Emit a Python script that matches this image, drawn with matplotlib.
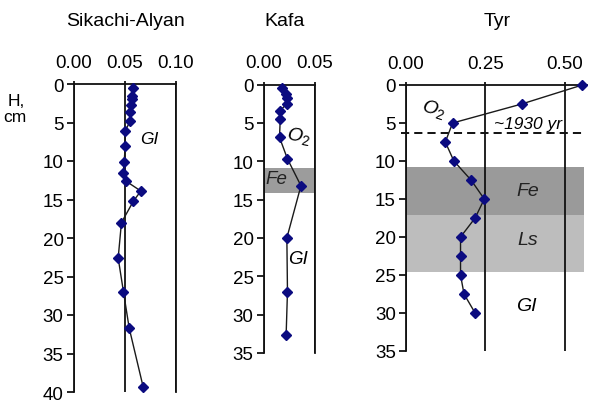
import matplotlib
matplotlib.use('Agg')
import matplotlib.pyplot as plt

plt.rcParams['font.family'] = ['Liberation Sans', 'DejaVu Sans']
plt.rcParams['mathtext.fontset'] = 'custom'
plt.rcParams['mathtext.rm'] = 'Liberation Sans'
plt.rcParams['mathtext.it'] = 'Liberation Sans:italic'

# ---------------- data ----------------
sik_depth = [0.5, 1.5, 2.0, 2.7, 3.6, 4.8, 6.1, 8.1, 10.1, 11.6, 12.6, 13.9, 15.2,
             18.0, 22.6, 27.0, 31.7, 39.4]
sik_val = [0.0588, 0.0578, 0.0572, 0.0562, 0.0552, 0.0556, 0.0507, 0.0507, 0.0497,
           0.0487, 0.0513, 0.0660, 0.0588, 0.0470, 0.0438, 0.0490, 0.0546, 0.0684]

kafa_depth = [0.5, 1.3, 1.8, 2.5, 3.4, 4.5, 6.9, 9.7, 13.2, 20.0, 27.0, 32.6]
kafa_val = [0.0186, 0.0220, 0.0229, 0.0229, 0.0164, 0.0164, 0.0157, 0.0235, 0.0367,
            0.0229, 0.0235, 0.0222]

tyr_depth = [0, 2.5, 5, 7.5, 10, 12.5, 15, 17.5, 20, 22.5, 25, 27.5, 30]
tyr_val = [0.556, 0.365, 0.147, 0.124, 0.151, 0.205, 0.247, 0.218, 0.172, 0.172,
           0.172, 0.183, 0.218]

titles = ['Sikachi-Alyan', 'Kafa', 'Tyr']
sik_xticks = [0.00, 0.05, 0.10]
kafa_xticks = [0.00, 0.05]
tyr_xticks = [0.00, 0.25, 0.50]

kafa_fe = (10.9, 14.1)
tyr_fe = (10.8, 17.1)
tyr_ls = (17.1, 24.6)
tyr_date_depth = 6.3

# ---------------- layout ----------------
W, H = 591, 402
fig = plt.figure(figsize=(W / 100, H / 100), dpi=100)


def rect(l, r, t, b):
    return [l / W, 1 - b / H, (r - l) / W, (b - t) / H]


ax1 = fig.add_axes(rect(73.5, 175.5, 85, 393))
ax2 = fig.add_axes(rect(263.5, 314.5, 85.5, 354))
ax3 = fig.add_axes(rect(406, 586.7, 86, 352))

MARK = '#0b0b80'
FS = 13.5


def style(ax, xlim, xticks, ymax, right_spine):
    ax.set_xlim(*xlim)
    ax.set_ylim(ymax, 0)
    ax.xaxis.tick_top()
    ax.set_xticks(xticks)
    ax.set_xticklabels(['%.2f' % v for v in xticks])
    ax.set_yticks(range(0, ymax + 1, 5))
    ax.tick_params(axis='x', length=2, width=1.2, pad=7.5, labelsize=FS, direction='out')
    ax.tick_params(axis='y', length=4.8, width=1.2, pad=2.4, labelsize=FS, direction='out')
    ax.spines['bottom'].set_visible(False)
    ax.spines['right'].set_visible(right_spine)
    for s in ['top', 'left', 'right']:
        ax.spines[s].set_linewidth(1.3)
        ax.spines[s].set_color('#111111')
    ax.grid(axis='x', color='#111111', lw=1.3)
    ax.grid(axis='y', visible=False)
    ax.set_facecolor('none')


def profile(ax, x, y):
    ax.plot(x, y, color='#1a1a1a', lw=1.0, zorder=2, clip_on=False)
    ax.plot(x, y, ls='none', marker='D', ms=5, color=MARK, mec=MARK, zorder=3,
            clip_on=False)


# Sikachi-Alyan
style(ax1, (0, 0.10), sik_xticks, 40, True)
profile(ax1, sik_val, sik_depth)
ax1.text(0.074, 7.1, 'GI', fontsize=12.5, style='italic', ha='center', va='center')

# Kafa
style(ax2, (0, 0.05), kafa_xticks, 35, True)
ax2.axhspan(*kafa_fe, color='#9c9c9c', lw=0, zorder=0.2)
profile(ax2, kafa_val, kafa_depth)
ax2.text(0.034, 6.6, r'$O_2$', fontsize=14, ha='center', va='center', rotation=-10)
ax2.text(0.013, 12.2, 'Fe', fontsize=13.5, style='italic', ha='center', va='center',
         color='#222222')
ax2.text(0.034, 22.7, 'GI', fontsize=13.5, style='italic', ha='center', va='center')

# Tyr
style(ax3, (0, 0.57), tyr_xticks, 35, False)
ax3.axhspan(*tyr_fe, xmin=0, xmax=0.985, color='#9a9a9a', lw=0, zorder=0.2)
ax3.axhspan(*tyr_ls, xmin=0, xmax=0.985, color='#bdbdbd', lw=0, zorder=0.2)
ax3.axhline(tyr_date_depth, xmin=-0.03, xmax=0.985, color='#111111', lw=1.4,
            ls=(0, (4.2, 2.6)), clip_on=False, zorder=1.8)
profile(ax3, tyr_val, tyr_depth)
ax3.text(0.087, 3.1, r'$O_2$', fontsize=14, ha='center', va='center', rotation=-18)
ax3.text(0.385, 5.0, '~1930 yr', fontsize=12.5, style='italic', ha='center', va='center')
ax3.text(0.385, 13.9, 'Fe', fontsize=14, style='italic', ha='center', va='center',
         color='#222222')
ax3.text(0.385, 20.3, 'Ls', fontsize=14, style='italic', ha='center', va='center',
         color='#222222')
ax3.text(0.38, 29.0, 'GI', fontsize=14, style='italic', ha='center', va='center')

# titles
for t, xc in zip(titles, [125.3, 285, 497.5]):
    fig.text(xc / W, 1 - 21.5 / H, t, fontsize=14, ha='center', va='center')

# y label
fig.text(8 / W, 1 - 101 / H, 'H,', fontsize=12.5, ha='left', va='center')
fig.text(3 / W, 1 - 118 / H, 'cm', fontsize=12.5, ha='left', va='center')

fig.savefig('out.png', dpi=100, facecolor='white')
